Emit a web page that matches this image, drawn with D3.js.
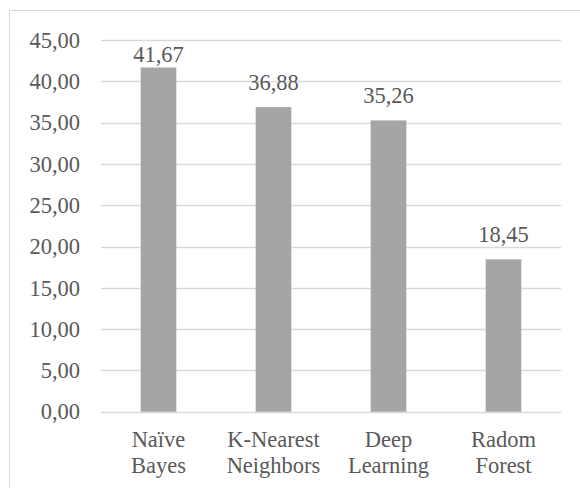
<!DOCTYPE html>
<html>
<head>
<meta charset="utf-8">
<script src="https://cdn.jsdelivr.net/npm/d3@7"></script>
<style>
  @font-face {
    font-family: "ChartSerif";
    src: local("Liberation Serif"), local("LiberationSerif"), local("LiberationSerif-Regular"),
         local("Tinos"), local("Times New Roman"), local("FreeSerif");
  }
  html, body { margin: 0; padding: 0; background: #fff; }
  svg { display: block; }
</style>
</head>
<body>
<svg id="chart" width="580" height="488"></svg>
<script>
// Model accuracy (%) per classifier
const categories = [["Naïve", "Bayes"], ["K-Nearest", "Neighbors"], ["Deep", "Learning"], ["Radom", "Forest"]];
const values = [41.67, 36.88, 35.26, 18.45];
const yTicks = [0, 5, 10, 15, 20, 25, 30, 35, 40, 45];

const W = 580, H = 488;
const margin = { top: 40, right: 19, bottom: 76.3, left: 101 };
const fontFamily = '"Liberation Serif", ChartSerif, Tinos, "Times New Roman", Times, FreeSerif, "DejaVu Serif", serif';
const textColor = "#595959";
const fontSize = "22.5px";

function draw() {
  const svg = d3.select("#chart");
  svg.selectAll("*").remove();

  // Chart area frame
  svg.append("rect")
    .attr("x", 9.5).attr("y", 10.5)
    .attr("width", W).attr("height", H)
    .attr("fill", "#fff")
    .attr("stroke", "#d9d9d9")
    .attr("stroke-width", 1);

  const x = d3.scaleBand()
    .domain(categories.map(c => c.join(" ")))
    .range([margin.left, W - margin.right])
    .paddingInner(0.69)
    .paddingOuter(0.345);

  const y = d3.scaleLinear()
    .domain([0, 45])
    .range([H - margin.bottom, margin.top]);

  // Horizontal gridlines
  svg.append("g")
    .selectAll("line")
    .data(yTicks)
    .join("line")
    .attr("x1", margin.left)
    .attr("x2", W - margin.right)
    .attr("y1", d => Math.round(y(d)) + 0.5)
    .attr("y2", d => Math.round(y(d)) + 0.5)
    .attr("stroke", "#d9d9d9")
    .attr("stroke-width", 1.3);

  // Y axis labels
  const fmt = d => d3.format(".2f")(d).replace(".", ",");
  const yAxis = d3.axisLeft(y).tickValues(yTicks).tickFormat(fmt).tickSize(0).tickPadding(21);
  const gy = svg.append("g")
    .attr("transform", `translate(${margin.left},0)`)
    .call(yAxis)
    .attr("font-family", null)
    .attr("font-size", null);
  gy.select(".domain").remove();
  gy.selectAll("text")
    .style("font-family", fontFamily)
    .style("font-size", fontSize)
    .attr("fill", textColor);

  // Bars
  const data = categories.map((c, i) => ({ key: c.join(" "), lines: c, value: values[i] }));
  svg.append("g")
    .selectAll("rect")
    .data(data)
    .join("rect")
    .attr("x", d => x(d.key))
    .attr("width", x.bandwidth())
    .attr("y", d => y(d.value))
    .attr("height", d => y(0) - y(d.value))
    .attr("fill", "#a5a5a5");

  // Value labels, kept inside the plot area
  svg.append("g")
    .selectAll("text")
    .data(data)
    .join("text")
    .attr("x", d => x(d.key) + x.bandwidth() / 2)
    .attr("y", d => Math.max(y(d.value) - 17, margin.top + 22))
    .attr("text-anchor", "middle")
    .style("font-family", fontFamily)
    .style("font-size", fontSize)
    .attr("fill", textColor)
    .text(d => fmt(d.value));

  // Category labels (two lines)
  const cat = svg.append("g")
    .selectAll("text")
    .data(data)
    .join("text")
    .attr("text-anchor", "middle")
    .style("font-family", fontFamily)
    .style("font-size", fontSize)
    .attr("fill", textColor);
  cat.selectAll("tspan")
    .data(d => d.lines.map(l => ({ l, cx: x(d.key) + x.bandwidth() / 2 })))
    .join("tspan")
    .attr("x", d => d.cx)
    .attr("y", (d, i) => 447 + i * 26)
    .text(d => d.l);
}

draw();
if (document.fonts && document.fonts.load) {
  document.fonts.load(fontSize + " ChartSerif").then(draw, draw);
}
</script>
</body>
</html>
